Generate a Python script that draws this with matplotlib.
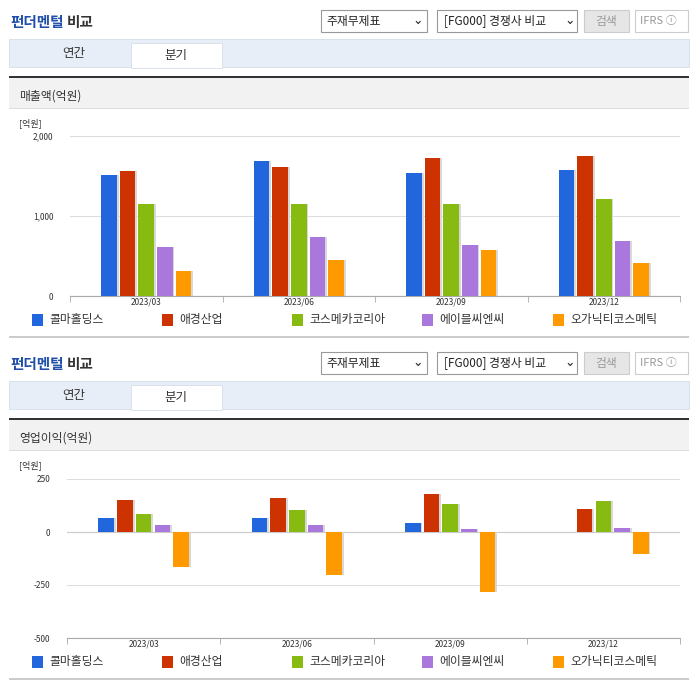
import matplotlib
matplotlib.use("Agg")
import matplotlib.pyplot as plt
from matplotlib.patches import Rectangle, FancyBboxPatch

plt.rcParams['font.family'] = ['Noto Sans CJK KR', 'DejaVu Sans']

quarters = ['2023/03', '2023/06', '2023/09', '2023/12']
companies = ['콜마홀딩스', '애경산업', '코스메카코리아', '에이블씨엔씨', '오가닉티코스메틱']
colors = ['#2266dd', '#cc3300', '#88bb11', '#aa77dd', '#ff9900']
sales = [
    [1512, 1687, 1537, 1575],
    [1562, 1612, 1725, 1750],
    [1150, 1150, 1150, 1212],
    [612, 737, 637, 687],
    [312, 450, 575, 412],
]
op_profit = [
    [67, 67, 44, 0],
    [150, 159, 178, 109],
    [86, 104, 132, 145],
    [35, 35, 14, 17],
    [-165, -204, -283, -103],
]

W, H = 696, 684
fig = plt.figure(figsize=(W/100, H/100), dpi=100)
fig.patch.set_facecolor('white')

def rect(x, y, w, h, fc, ec='none', lw=0, z=0):
    fig.patches.append(Rectangle((x/W, 1-(y+h)/H), w/W, h/H, transform=fig.transFigure,
                                 facecolor=fc, edgecolor=ec, linewidth=lw, zorder=z))

def txt(x, y, s, size=9, color='#333333', ha='left', **kw):
    fig.text(x/W, 1-y/H, s, fontsize=size, color=color, ha=ha, va='center', **kw)

def panel(off, section, data, ylim, yticks, ytl, ax_box):
    # title
    txt(10, 22+off, '펀더멘털', 10.5, '#1f4fa8', weight='bold')
    txt(67, 22+off, '비교', 10.5, '#333333', weight='bold')
    rect(321, 10+off, 106, 22, 'white', '#999999', 0.8)
    txt(326, 21+off, '주재무제표', 8.5, '#222222')
    txt(418, 21+off, '⌄', 9, '#222222', ha='center')
    rect(437, 10+off, 140, 22, 'white', '#999999', 0.8)
    txt(444, 21+off, '[FG000] 경쟁사 비교', 8.5, '#222222')
    txt(570, 20+off, '⌄', 9, '#222222', ha='center')
    rect(584, 10+off, 45, 22, '#e6e6e6', '#cccccc', 0.8)
    txt(606, 21+off, '검색', 8.5, '#999999', ha='center')
    rect(635, 10+off, 53, 22, 'white', '#cccccc', 0.8)
    txt(640, 21+off, 'IFRS ⓘ', 8, '#999999')
    # tabs
    rect(9, 39+off, 680, 28, '#e8eef7', '#d5dde8', 0.6)
    rect(131, 43+off, 91, 25, 'white', '#d5dde8', 0.6, z=1)
    txt(74, 54+off, '연간', 9, '#333333', ha='center')
    txt(176, 56+off, '분기', 9, '#333333', ha='center')
    # section band
    rect(9, 76+off, 680, 2, '#333333')
    rect(9, 78+off, 680, 30, '#f2f2f2')
    rect(9, 108+off, 680, 1, '#dddddd')
    txt(19, 96+off, section, 8.5, '#333333')
    txt(19, 123+off, '[억원]', 6.5, '#333333')
    # chart
    x0, y0, x1, y1 = ax_box
    ax = fig.add_axes([x0/W, 1-y1/H, (x1-x0)/W, (y1-y0)/H])
    ax.set_xlim(-0.5, 3.5)
    ax.set_ylim(*ylim)
    step, bw = 0.122, 0.102
    for k, (vals, c) in enumerate(zip(data, colors)):
        xs = [i + (k-2)*step for i in range(4)]
        ax.bar([x+0.012 for x in xs], vals, bw, bottom=0, color='#d8d8d8', zorder=2)
        ax.bar(xs, vals, bw, color=c, zorder=3)
    ax.set_yticks(yticks)
    ax.set_yticklabels(ytl, fontsize=6, color='#333333')
    ax.yaxis.grid(True, color='#dddddd', lw=0.8)
    ax.set_axisbelow(True)
    ax.axhline(0, color='#cccccc', lw=0.8, zorder=1)
    ax.set_xticks(range(4))
    ax.set_xticklabels(quarters, fontsize=6, color='#333333')
    ax.set_xticks([-0.5, 0.5, 1.5, 2.5, 3.5], minor=True)
    ax.tick_params(axis='x', which='major', length=0, pad=1)
    ax.tick_params(axis='x', which='minor', length=4, color='#aaaaaa')
    ax.tick_params(axis='y', length=0, pad=12)
    for s in ['top', 'right', 'left']:
        ax.spines[s].set_visible(False)
    ax.spines['bottom'].set_color('#aaaaaa')
    # legend
    lx = [32, 162, 292, 422, 553]
    ly = 320 + off
    for x, name, c in zip(lx, companies, colors):
        rect(x, ly-6, 11, 12, c, z=2)
        txt(x+17, ly, name, 8.5, '#333333')
    rect(9, 336+off, 680, 2, '#cccccc')
    return ax

panel(0, '매출액(억원)', sales, (0, 2000), [0, 1000, 2000], ['0', '1,000', '2,000'],
      (70, 136, 680, 296))
panel(342, '영업이익(억원)', op_profit, (-500, 250), [-500, -250, 0, 250],
      ['-500', '-250', '0', '250'], (67, 479, 680, 638))

fig.savefig('out.png', dpi=100)
